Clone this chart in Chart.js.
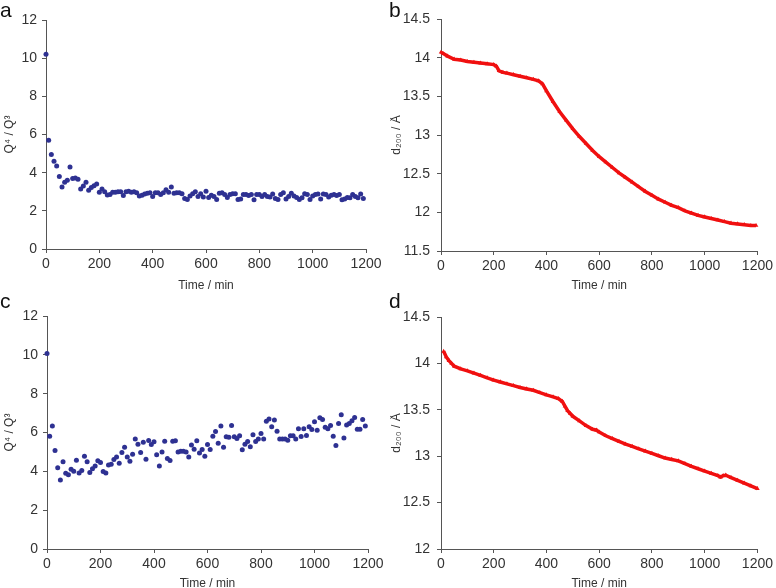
<!DOCTYPE html>
<html>
<head>
<meta charset="utf-8">
<script src="https://cdn.jsdelivr.net/npm/chart.js@4"></script>
<style>
body { margin: 0; background: #fff; }
#wrap { position: relative; width: 776px; height: 588px; font-family: "Liberation Sans", Arial, sans-serif; }
canvas { position: absolute; }
.lbl { position: absolute; font-size: 21px; line-height: 20px; color: #111; }
</style>
</head>
<body>
<div id="wrap">
  <canvas id="ca" width="388" height="290" style="left:0;top:0"></canvas>
  <canvas id="cb" width="386" height="290" style="left:390px;top:0"></canvas>
  <canvas id="cc" width="388" height="298" style="left:0;top:290px"></canvas>
  <canvas id="cd" width="386" height="298" style="left:390px;top:290px"></canvas>
  <div class="lbl" style="left:0;top:0">a</div>
  <div class="lbl" style="left:389px;top:0">b</div>
  <div class="lbl" style="left:0;top:291px">c</div>
  <div class="lbl" style="left:389px;top:291px">d</div>
</div>
<script>
// time axis of the Q4/Q3 panels (a and c), min
const timeQ = [0,10,20,30,40,50,60,70,80,90,100,110,120,130,140,150,160,170,180,190,
  200,210,220,230,240,250,260,270,280,290,300,310,320,330,340,350,360,370,380,390,
  400,410,420,430,440,450,460,470,480,490,500,510,520,530,540,550,560,570,580,590,
  600,610,620,630,640,650,660,670,680,690,700,710,720,730,740,750,760,770,780,790,
  800,810,820,830,840,850,860,870,880,890,900,910,920,930,940,950,960,970,980,990,
  1000,1010,1020,1030,1040,1050,1060,1070,1080,1090,1100,1110,1120,1130,1140,1150,1160,1170,1180,1190];

// panel a: Q4/Q3
const ratioA = [10.2,5.7,4.95,4.6,4.35,3.8,3.25,3.5,3.6,4.3,3.7,3.72,3.65,3.15,3.3,3.5,3.08,3.22,3.32,3.4,
  2.98,3.15,3.0,2.83,2.85,2.98,2.98,3.0,3.0,2.8,3.0,3.02,2.98,3.0,2.95,2.78,2.82,2.88,2.92,2.95,
  2.75,2.95,2.95,2.85,2.95,3.1,2.98,3.25,2.92,2.95,2.95,2.9,2.65,2.6,2.78,2.9,3.0,2.75,2.9,2.72,
  3.02,2.7,2.82,2.75,2.6,2.92,2.95,2.85,2.7,2.85,2.9,2.9,2.6,2.62,2.85,2.85,2.8,2.85,2.58,2.85,
  2.85,2.75,2.85,2.75,2.72,2.88,2.65,2.6,2.85,2.95,2.62,2.75,2.92,2.78,2.7,2.6,2.68,2.9,2.85,2.6,
  2.78,2.85,2.88,2.62,2.88,2.85,2.72,2.82,2.85,2.8,2.85,2.58,2.62,2.7,2.68,2.85,2.75,2.68,2.88,2.65];

// panel c: Q4/Q3
const ratioC = [10.07,5.81,6.33,5.07,4.18,3.56,4.49,3.9,3.83,4.11,4.0,4.57,3.92,4.04,4.78,4.49,3.94,4.13,4.28,4.54,
  4.45,3.99,3.92,4.33,4.37,4.61,4.74,4.42,4.97,5.24,4.74,4.52,4.88,5.67,5.4,4.97,5.5,4.62,5.59,5.38,
  5.52,4.85,4.28,5.0,5.55,4.66,4.56,5.55,5.57,5.0,5.04,5.04,4.99,4.74,5.36,5.14,5.57,4.95,5.12,4.78,
  5.38,5.12,5.81,6.05,5.45,6.33,5.24,5.78,5.76,6.36,5.78,5.69,5.83,5.11,5.4,5.54,5.26,5.88,5.54,5.66,
  5.95,5.67,6.58,6.69,6.29,6.65,6.07,5.67,5.67,5.67,5.6,5.83,5.83,5.67,6.19,5.79,6.19,5.84,6.29,6.15,
  6.55,6.12,6.76,6.67,6.27,6.19,6.36,5.81,5.33,6.46,6.91,5.72,6.38,6.46,6.6,6.77,6.17,6.17,6.67,6.33];

// panel b: d200
const timeB = [0,10,25,50,75,100,125,150,175,200,210,220,235,250,275,300,325,350,370,385,
  400,425,450,475,500,525,550,575,600,625,650,675,700,725,750,775,800,825,850,875,
  900,925,950,975,1000,1025,1050,1075,1100,1125,1150,1175,1195];
const spacingB = [14.07,14.05,14.02,13.98,13.97,13.95,13.94,13.93,13.92,13.91,13.89,13.83,13.81,13.8,13.78,13.76,13.74,13.72,13.7,13.66,
  13.57,13.43,13.3,13.19,13.08,12.98,12.89,12.8,12.72,12.65,12.58,12.51,12.45,12.39,12.33,12.27,12.22,12.17,12.13,12.09,
  12.06,12.02,11.99,11.96,11.94,11.92,11.9,11.88,11.86,11.85,11.84,11.83,11.83];

// panel d: d200
const timeD = [10,20,30,40,50,75,100,125,150,175,200,225,250,275,300,325,350,375,400,425,
  445,460,470,480,490,500,525,550,575,590,600,625,650,675,700,725,750,775,800,825,
  850,875,900,925,950,975,1000,1025,1050,1060,1070,1080,1100,1125,1150,1175,1200];
const spacingD = [14.13,14.07,14.03,14.0,13.97,13.94,13.92,13.895,13.87,13.845,13.82,13.8,13.78,13.76,13.74,13.725,13.71,13.685,13.66,13.64,
  13.62,13.59,13.54,13.49,13.46,13.43,13.38,13.33,13.29,13.28,13.26,13.22,13.19,13.16,13.13,13.105,13.08,13.055,13.03,13.005,
  12.98,12.965,12.95,12.92,12.89,12.865,12.84,12.815,12.79,12.775,12.79,12.795,12.77,12.74,12.71,12.68,12.65];

const axisColor = '#555';
const textColor = '#333';
const fontFamily = '"Liberation Sans", Arial, sans-serif';

function toXY(xs, ys) {
  return xs.map((x, i) => ({ x: x, y: ys[i] }));
}

// area = plot box inside the canvas: l, t, r, b
function panel(id, area, yMin, yMax, yStep, yTitle, yLabelPad, yTitlePad, dataset) {
  const cv = document.getElementById(id);
  const w = cv.width, h = cv.height;
  new Chart(cv, {
    type: 'scatter',
    data: { datasets: [dataset] },
    options: {
      responsive: false,
      animation: false,
      layout: { padding: { left: 0, top: area.t, right: w - area.r, bottom: 0 } },
      plugins: { legend: { display: false }, tooltip: { enabled: false } },
      scales: {
        x: {
          type: 'linear', min: 0, max: 1200,
          ticks: { stepSize: 200, color: textColor, font: { family: fontFamily, size: 14 }, padding: 3, maxRotation: 0,
            callback: v => String(v) },
          grid: { drawOnChartArea: false, drawTicks: true, tickLength: 4, color: axisColor },
          border: { color: axisColor, width: 1 },
          title: { display: true, text: 'Time / min', color: textColor,
            font: { family: fontFamily, size: 12, lineHeight: 1 }, padding: { top: 0, bottom: -2 } },
          afterFit: s => { s.height = h - area.b; }
        },
        y: {
          type: 'linear', min: yMin, max: yMax,
          ticks: { stepSize: yStep, color: textColor, font: { family: fontFamily, size: 14 }, padding: yLabelPad,
            callback: v => String(v) },
          grid: { drawOnChartArea: false, drawTicks: true, tickLength: 4, color: axisColor },
          border: { color: axisColor, width: 1 },
          title: { display: true, text: yTitle, color: textColor,
            font: { family: fontFamily, size: 12, lineHeight: 1 }, padding: { top: yTitlePad, bottom: 0 } },
          afterFit: s => { s.width = area.l; }
        }
      }
    }
  });
}

const dotStyle = { pointRadius: 2.5, pointBorderWidth: 0, pointBackgroundColor: '#2e3192', showLine: false, clip: false };
const triStyle = { showLine: true, borderColor: '#f01010', borderWidth: 3.5, pointStyle: 'triangle', pointRadius: 2.6,
  pointBorderWidth: 0, pointBackgroundColor: '#f01010', clip: false };

panel('ca', { l: 46, t: 20, r: 366, b: 249 }, 0, 12, 2, 'Q\u2074 / Q\u00b3', 5, 4,
  Object.assign({ data: toXY(timeQ, ratioA) }, dotStyle));
panel('cb', { l: 51, t: 19, r: 369, b: 251 }, 11.5, 14.5, 0.5, 'd\u2082\u2080\u2080 / \u00c5', 7, 1,
  Object.assign({ data: toXY(timeB, spacingB) }, triStyle));
panel('cc', { l: 47, t: 26, r: 368, b: 259 }, 0, 12, 2, 'Q\u2074 / Q\u00b3', 5, 4,
  Object.assign({ data: toXY(timeQ, ratioC) }, dotStyle));
panel('cd', { l: 51, t: 27, r: 372, b: 259 }, 12, 14.5, 0.5, 'd\u2082\u2080\u2080 / \u00c5', 7, 1,
  Object.assign({ data: toXY(timeD, spacingD) }, triStyle));
</script>
</body>
</html>
